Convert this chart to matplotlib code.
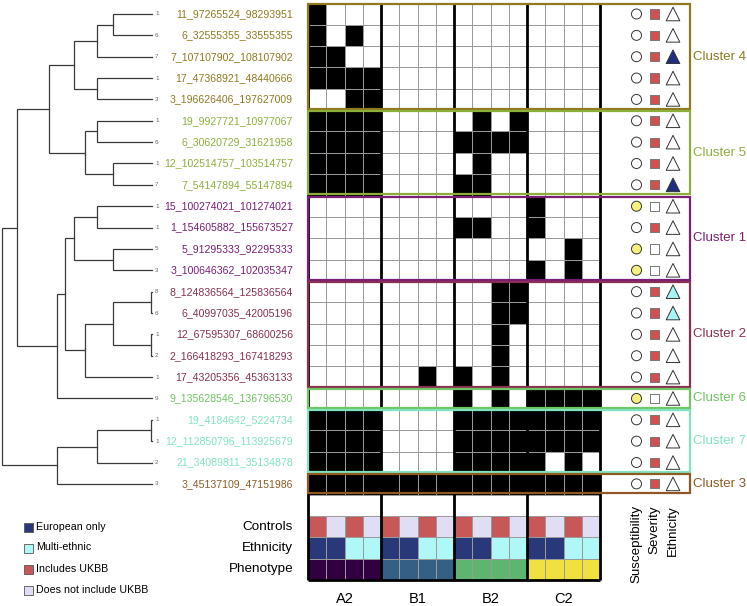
import matplotlib
matplotlib.use('Agg')
import matplotlib.pyplot as plt
import numpy as np
from matplotlib.patches import Rectangle
from matplotlib.colors import ListedColormap

plt.rcParams['font.family'] = ['Liberation Sans', 'DejaVu Sans']

# ---------------- data ----------------
loci = ['11_97265524_98293951', '6_32555355_33555355', '7_107107902_108107902',
        '17_47368921_48440666', '3_196626406_197627009',
        '19_9927721_10977067', '6_30620729_31621958', '12_102514757_103514757',
        '7_54147894_55147894',
        '15_100274021_101274021', '1_154605882_155673527', '5_91295333_92295333',
        '3_100646362_102035347',
        '8_124836564_125836564', '6_40997035_42005196', '12_67595307_68600256',
        '2_166418293_167418293', '17_43205356_45363133',
        '9_135628546_136796530',
        '19_4184642_5224734', '12_112850796_113925679', '21_34089811_35134878',
        '3_45137109_47151986']

cluster_names = ['Cluster 4', 'Cluster 5', 'Cluster 1', 'Cluster 2', 'Cluster 6', 'Cluster 7', 'Cluster 3']
cluster_sizes = [5, 4, 4, 5, 1, 3, 1]
cluster_colors = ['#8C7B1F', '#8DAF3A', '#7A1F78', '#8A2F50', '#70C463', '#80E5BF', '#8E5A22']

blocks = ['A2', 'B1', 'B2', 'C2']
A2_calls = ['1000', '1010', '1100', '1111', '0011', '1111', '1111', '1111', '1111',
            '0000', '0000', '0000', '0000', '0000', '0000', '0000', '0000', '0000',
            '0000', '1111', '1111', '1111', '1111']
B1_calls = ['0000', '0000', '0000', '0000', '0000', '0000', '0000', '0000', '0000',
            '0000', '0000', '0000', '0000', '0000', '0000', '0000', '0000', '0010',
            '0000', '0000', '0000', '0000', '1111']
B2_calls = ['0000', '0000', '0000', '0000', '0000', '0101', '1111', '0100', '1100',
            '0000', '1100', '0000', '0000', '0011', '0011', '0010', '0010', '1010',
            '1010', '1111', '1111', '1111', '1111']
C2_calls = ['0000', '0000', '0000', '0000', '0000', '0000', '0000', '0000', '0000',
            '1000', '1000', '0010', '1010', '0000', '0000', '0000', '0000', '0000',
            '1111', '1111', '1111', '1010', '1111']

controls = ['Includes UKBB', 'Does not include UKBB', 'Includes UKBB', 'Does not include UKBB']
ethnicity = ['European only', 'European only', 'Multi-ethnic', 'Multi-ethnic']
phenotype_colors = ['#300040', '#355F85', '#5DB570', '#F0E040']

susceptibility = [0, 0, 0, 0, 0, 0, 0, 0, 0, 1, 0, 1, 1, 0, 0, 0, 0, 0, 1, 0, 0, 0, 0]
severity = [1, 1, 1, 1, 1, 1, 1, 1, 1, 0, 1, 0, 0, 1, 1, 1, 1, 1, 0, 1, 1, 1, 1]
ethnic_signal = ['', '', 'E', '', '', '', '', '', 'E', '', '', '', '', 'M', 'M', '',
                 '', '', '', '', '', '', '']

# dendrogram merges: (child a, child b, height); leaves 0..22, nodes 23+
merges = [(0, 1, 39), (23, 2, 55), (3, 4, 55), (24, 25, 78),
          (5, 6, 55), (7, 8, 39), (27, 28, 67), (26, 29, 103),
          (9, 10, 55), (11, 12, 39), (31, 32, 78),
          (13, 14, 1), (15, 16, 1), (34, 35, 39), (36, 17, 67),
          (33, 37, 87), (38, 18, 95), (30, 39, 135),
          (19, 20, 1), (41, 21, 55), (42, 22, 95), (40, 43, 150)]

legend_labels = ['European only', 'Multi-ethnic', 'Includes UKBB', 'Does not include UKBB']
legend_colors = ['#283878', '#B0F8F8', '#C85858', '#E0DEF5']
cat_color = dict(zip(legend_labels, legend_colors))

# ---------------- figure ----------------
W, H = 747, 606
fig = plt.figure(figsize=(W / 100, H / 100), dpi=100)

def px_axes(x0, y0, x1, y1, **kw):
    return fig.add_axes([x0 / W, 1 - y1 / H, (x1 - x0) / W, (y1 - y0) / H], **kw)

n = len(loci)
nrows_total = n + 4
top_px, bot_px = 3.3, 580.0
heat_left, heat_right = 308.0, 600.0
colw = (heat_right - heat_left) / 16
box_right_px = 690.0
xmax = (box_right_px - heat_left) / colw

ax = px_axes(heat_left, top_px, box_right_px, bot_px)
ax.set_xlim(0, xmax)
ax.set_ylim(nrows_total, 0)
ax.axis('off')

# binary matrix
calls = [A2_calls, B1_calls, B2_calls, C2_calls]
mat = np.array([[int(ch) for b in calls for ch in b[i]] for i in range(n)])
ax.pcolormesh(np.arange(17), np.arange(n + 1), mat, cmap=ListedColormap(['white', 'black']),
              vmin=0, vmax=1, edgecolors='#9a9a9a', linewidth=0.7)

# annotation rows
row_c = [cat_color[c] for b in blocks for c in controls]
row_e = [cat_color[e] for b in blocks for e in ethnicity]
row_p = [phenotype_colors[k] for k in range(4) for _ in range(4)]
palette = list(dict.fromkeys(row_c + row_e + row_p))
codes = np.array([[palette.index(c) for c in r] for r in (row_c, row_e, row_p)])
ax.pcolormesh(np.arange(17), np.arange(n + 1, n + 5), codes, cmap=ListedColormap(palette),
              vmin=-0.5, vmax=len(palette) - 0.5, edgecolors='#9a9a9a', linewidth=0.7)

# block separators
ax.vlines([0, 4, 8, 12, 16], 0, nrows_total, color='black', lw=2.0, zorder=5, clip_on=False)
ax.hlines(nrows_total, 0, 16, color='black', lw=2.0, zorder=5, clip_on=False)

# cluster boxes + labels
start = 0
row_color = []
for name, size, col in zip(cluster_names, cluster_sizes, cluster_colors):
    ax.add_patch(Rectangle((0, start + 0.05), xmax, size - 0.1, fill=False, edgecolor=col,
                           lw=1.6, zorder=6, clip_on=False))
    ax.text(xmax + 0.17, start + size / 2, name, ha='left', va='center', fontsize=9.5,
            color=col, clip_on=False)
    row_color += [col] * size
    start += size

# icon columns
yy = np.arange(n) + 0.5
ax.scatter(np.full(n, 18.0), yy, s=7.2 ** 2, marker='o',
           c=['#F8F27C' if v else 'white' for v in susceptibility],
           edgecolors='#333333', linewidths=0.7, zorder=7)
ax.scatter(np.full(n, 19.0), yy, s=6.6 ** 2, marker='s',
           c=['#D25050' if v else 'white' for v in severity],
           edgecolors='#777777', linewidths=0.7, zorder=7)
tri_map = {'': 'white', 'E': '#1F2F7D', 'M': '#A8F4F4'}
ax.scatter(np.full(n, 20.0), yy, s=9.8 ** 2, marker='^',
           c=[tri_map[v] for v in ethnic_signal],
           edgecolors='#333333', linewidths=0.7, zorder=7)

for xi, lab in zip([18, 19, 20], ['Susceptibility', 'Severity', 'Ethnicity']):
    ax.text(xi, 23.49, lab, rotation=90, ha='center', va='top', fontsize=9.6, clip_on=False)

for k, b in enumerate(blocks):
    ax.text(4 * k + 2, 27.9, b, ha='center', va='center', fontsize=10.5, clip_on=False)

# row labels
lab_x = (293 - heat_left) / colw
for i, (lab, col) in enumerate(zip(loci, row_color)):
    ax.text(lab_x, i + 0.5, lab, ha='right', va='center', fontsize=7.6, color=col, clip_on=False)
    ax.text((155 - heat_left) / colw, i + 0.5, lab[0], ha='left', va='center', fontsize=4.5,
            color='#666666', clip_on=False)
for j, lab in enumerate(['Controls', 'Ethnicity', 'Phenotype']):
    ax.text(lab_x, n + 1.5 + j, lab, ha='right', va='center', fontsize=9.7, clip_on=False)

# dendrogram
axd = px_axes(2, top_px, 152, bot_px)
axd.set_xlim(150, 0)
axd.set_ylim(nrows_total, 0)
axd.axis('off')
pos = {i: (0.0, i + 0.5) for i in range(n)}
for k, (a, b, h) in enumerate(merges):
    ha_, ya = pos[a]
    hb, yb = pos[b]
    axd.plot([ha_, h, h, hb], [ya, ya, yb, yb], color='#3a3a3a', lw=0.9,
             solid_joinstyle='miter', clip_on=False)
    pos[n + k] = (h, (ya + yb) / 2)

# legend (bottom-left)
axl = px_axes(0, 0, W, H)
axl.set_xlim(0, W)
axl.set_ylim(H, 0)
axl.axis('off')
axl.set_zorder(-1)
for lab, col, yc in zip(legend_labels, legend_colors, [527, 548, 569.5, 590.5]):
    axl.add_patch(Rectangle((23.5, yc - 4.5), 9, 9, facecolor=col, edgecolor='#555555', lw=0.6))
    axl.text(36, yc - 0.5, lab, ha='left', va='center', fontsize=7.7)

fig.savefig('out.png', dpi=100)
